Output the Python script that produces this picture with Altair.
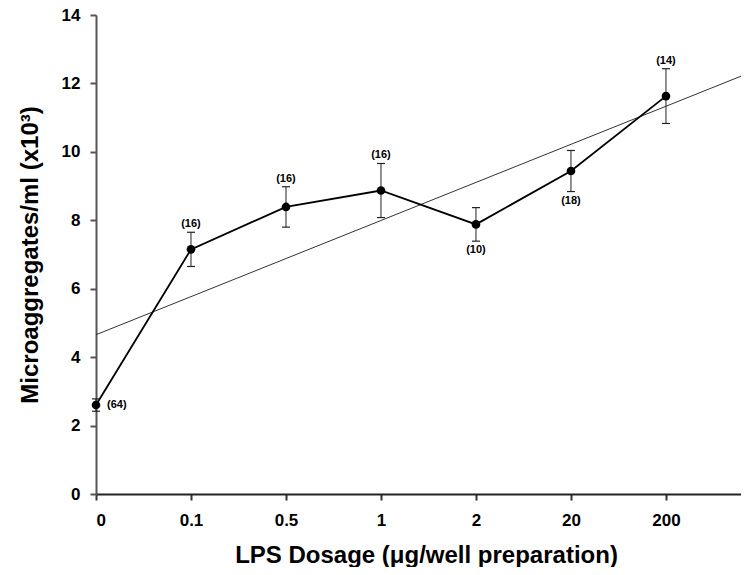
import altair as alt
import pandas as pd

# ---- data ----
doses = ["0", "0.1", "0.5", "1", "2", "20", "200"]
means = [2.60, 7.15, 8.39, 8.87, 7.88, 9.44, 11.63]
sems = [0.18, 0.50, 0.59, 0.79, 0.49, 0.60, 0.80]
counts = ["(64)", "(16)", "(16)", "(16)", "(10)", "(18)", "(14)"]
y_ticks = [0, 2, 4, 6, 8, 10, 12, 14]

below_labels = ["2", "20"]
right_labels = ["0"]

XMAX = 6.79
FONT = "Liberation Sans"

df = pd.DataFrame({
    "idx": list(range(len(doses))),
    "dose": doses,
    "mean": means,
    "lo": [m - s for m, s in zip(means, sems)],
    "hi": [m + s for m, s in zip(means, sems)],
    "n": counts,
})

label_expr = "[" + ",".join("'%s'" % d for d in doses) + "][datum.value]"

x_enc = alt.X(
    "idx:Q",
    scale=alt.Scale(domain=[0, XMAX], nice=False, zero=False),
    axis=alt.Axis(
        values=list(range(len(doses))),
        labelExpr=label_expr,
        title="LPS Dosage (\u03bcg/well preparation)",
        titleX=330, titleY=68, titleBaseline="alphabetic",
        titleFontSize=24, titleFontWeight="bold", titleFont=FONT,
        labelFontSize=17, labelFontWeight="bold", labelFont=FONT,
        labelPadding=12, tickSize=6, tickWidth=2, tickColor="#333",
        domainColor="#222", domainWidth=2, grid=False,
        labelColor="black", titleColor="black",
    ),
)

y_scale = alt.Scale(domain=[0, 14], nice=False)
y_axis = alt.Axis(
    values=y_ticks,
    title="Microaggregates/ml (x10\u00b3)",
    titleAngle=-90, titleX=-66, titleBaseline="middle",
    titleFontSize=24, titleFontWeight="bold", titleFont=FONT,
    labelFontSize=17, labelFontWeight="bold", labelFont=FONT,
    labelPadding=10, tickSize=6, tickWidth=2, tickColor="#555",
    domainColor="#555", domainWidth=2, grid=False,
    labelColor="black", titleColor="black",
)

base = alt.Chart(df)

reg = base.transform_regression("idx", "mean", extent=[0, XMAX]).mark_line(
    color="#333", strokeWidth=1
).encode(x=x_enc, y=alt.Y("mean:Q", scale=y_scale, axis=y_axis))

line = base.mark_line(color="black", strokeWidth=1.8).encode(
    x=x_enc, y=alt.Y("mean:Q", scale=y_scale, axis=y_axis)
)

err = base.mark_rule(color="#222", strokeWidth=1).encode(
    x="idx:Q", y="lo:Q", y2="hi:Q"
)
cap_hi = base.mark_point(shape="stroke", size=64, color="#222", strokeWidth=1.2, filled=False, opacity=1).encode(
    x="idx:Q", y="hi:Q"
)
cap_lo = base.mark_point(shape="stroke", size=64, color="#222", strokeWidth=1.2, filled=False, opacity=1).encode(
    x="idx:Q", y="lo:Q"
)

pts = base.mark_point(shape="circle", size=75, filled=True, color="black", opacity=1).encode(
    x="idx:Q", y="mean:Q"
)

txt_style = dict(font=FONT, fontSize=11, fontWeight="bold", color="black")

txt_above = base.transform_filter(
    ~alt.FieldOneOfPredicate(field="dose", oneOf=below_labels + right_labels)
).mark_text(baseline="bottom", dy=-3, **txt_style).encode(x="idx:Q", y="hi:Q", text="n:N")

txt_below = base.transform_filter(
    alt.FieldOneOfPredicate(field="dose", oneOf=below_labels)
).mark_text(baseline="top", dy=3, **txt_style).encode(x="idx:Q", y="lo:Q", text="n:N")

txt_right = base.transform_filter(
    alt.FieldOneOfPredicate(field="dose", oneOf=right_labels)
).mark_text(align="left", baseline="middle", dx=11, **txt_style).encode(x="idx:Q", y="mean:Q", text="n:N")

chart = alt.layer(reg, line, err, cap_hi, cap_lo, pts, txt_above, txt_below, txt_right).properties(
    width=645, height=479,
    autosize=alt.AutoSizeParams(type="none"),
    padding={"left": 88, "top": 7, "right": 0, "bottom": 73},
    background="white",
).configure_view(stroke=None)

chart.save("out.html", embed_options={"renderer": "svg", "actions": False})
